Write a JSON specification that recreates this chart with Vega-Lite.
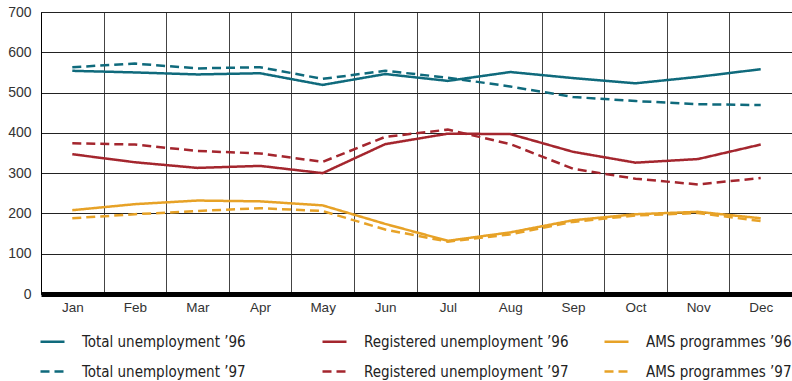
{
  "$schema": "https://vega.github.io/schema/vega-lite/v6.json",
  "autosize": {"type": "none"},
  "width": 751,
  "height": 282,
  "padding": {"left": 41, "top": 12, "right": 0, "bottom": 87},
  "background": "white",
  "config": {
    "view": {"stroke": "#222", "strokeWidth": 1},
    "font": "Liberation Sans"
  },
  "data": {
    "values": [
      {"month": "Jan", "series": "Total unemployment ’96", "value": 554},
      {"month": "Feb", "series": "Total unemployment ’96", "value": 550},
      {"month": "Mar", "series": "Total unemployment ’96", "value": 545},
      {"month": "Apr", "series": "Total unemployment ’96", "value": 548},
      {"month": "May", "series": "Total unemployment ’96", "value": 519},
      {"month": "Jun", "series": "Total unemployment ’96", "value": 546},
      {"month": "Jul", "series": "Total unemployment ’96", "value": 529},
      {"month": "Aug", "series": "Total unemployment ’96", "value": 551},
      {"month": "Sep", "series": "Total unemployment ’96", "value": 536},
      {"month": "Oct", "series": "Total unemployment ’96", "value": 523},
      {"month": "Nov", "series": "Total unemployment ’96", "value": 539},
      {"month": "Dec", "series": "Total unemployment ’96", "value": 558},
      {"month": "Jan", "series": "Registered unemployment ’96", "value": 347},
      {"month": "Feb", "series": "Registered unemployment ’96", "value": 327},
      {"month": "Mar", "series": "Registered unemployment ’96", "value": 313},
      {"month": "Apr", "series": "Registered unemployment ’96", "value": 318},
      {"month": "May", "series": "Registered unemployment ’96", "value": 300},
      {"month": "Jun", "series": "Registered unemployment ’96", "value": 372},
      {"month": "Jul", "series": "Registered unemployment ’96", "value": 398},
      {"month": "Aug", "series": "Registered unemployment ’96", "value": 397},
      {"month": "Sep", "series": "Registered unemployment ’96", "value": 353},
      {"month": "Oct", "series": "Registered unemployment ’96", "value": 326},
      {"month": "Nov", "series": "Registered unemployment ’96", "value": 335},
      {"month": "Dec", "series": "Registered unemployment ’96", "value": 371},
      {"month": "Jan", "series": "AMS programmes ’96", "value": 208},
      {"month": "Feb", "series": "AMS programmes ’96", "value": 223},
      {"month": "Mar", "series": "AMS programmes ’96", "value": 232},
      {"month": "Apr", "series": "AMS programmes ’96", "value": 230},
      {"month": "May", "series": "AMS programmes ’96", "value": 220},
      {"month": "Jun", "series": "AMS programmes ’96", "value": 174},
      {"month": "Jul", "series": "AMS programmes ’96", "value": 132},
      {"month": "Aug", "series": "AMS programmes ’96", "value": 153},
      {"month": "Sep", "series": "AMS programmes ’96", "value": 183},
      {"month": "Oct", "series": "AMS programmes ’96", "value": 198},
      {"month": "Nov", "series": "AMS programmes ’96", "value": 204},
      {"month": "Dec", "series": "AMS programmes ’96", "value": 188},
      {"month": "Jan", "series": "Total unemployment ’97", "value": 563},
      {"month": "Feb", "series": "Total unemployment ’97", "value": 572},
      {"month": "Mar", "series": "Total unemployment ’97", "value": 560},
      {"month": "Apr", "series": "Total unemployment ’97", "value": 563},
      {"month": "May", "series": "Total unemployment ’97", "value": 534},
      {"month": "Jun", "series": "Total unemployment ’97", "value": 554},
      {"month": "Jul", "series": "Total unemployment ’97", "value": 537},
      {"month": "Aug", "series": "Total unemployment ’97", "value": 515},
      {"month": "Sep", "series": "Total unemployment ’97", "value": 489},
      {"month": "Oct", "series": "Total unemployment ’97", "value": 479},
      {"month": "Nov", "series": "Total unemployment ’97", "value": 471},
      {"month": "Dec", "series": "Total unemployment ’97", "value": 469},
      {"month": "Jan", "series": "Registered unemployment ’97", "value": 374},
      {"month": "Feb", "series": "Registered unemployment ’97", "value": 371},
      {"month": "Mar", "series": "Registered unemployment ’97", "value": 355},
      {"month": "Apr", "series": "Registered unemployment ’97", "value": 349},
      {"month": "May", "series": "Registered unemployment ’97", "value": 328},
      {"month": "Jun", "series": "Registered unemployment ’97", "value": 390},
      {"month": "Jul", "series": "Registered unemployment ’97", "value": 408},
      {"month": "Aug", "series": "Registered unemployment ’97", "value": 372},
      {"month": "Sep", "series": "Registered unemployment ’97", "value": 311},
      {"month": "Oct", "series": "Registered unemployment ’97", "value": 286},
      {"month": "Nov", "series": "Registered unemployment ’97", "value": 272},
      {"month": "Dec", "series": "Registered unemployment ’97", "value": 288},
      {"month": "Jan", "series": "AMS programmes ’97", "value": 188},
      {"month": "Feb", "series": "AMS programmes ’97", "value": 198},
      {"month": "Mar", "series": "AMS programmes ’97", "value": 206},
      {"month": "Apr", "series": "AMS programmes ’97", "value": 213},
      {"month": "May", "series": "AMS programmes ’97", "value": 206},
      {"month": "Jun", "series": "AMS programmes ’97", "value": 160},
      {"month": "Jul", "series": "AMS programmes ’97", "value": 130},
      {"month": "Aug", "series": "AMS programmes ’97", "value": 148},
      {"month": "Sep", "series": "AMS programmes ’97", "value": 179},
      {"month": "Oct", "series": "AMS programmes ’97", "value": 195},
      {"month": "Nov", "series": "AMS programmes ’97", "value": 201},
      {"month": "Dec", "series": "AMS programmes ’97", "value": 181}
    ]
  },
  "mark": {"type": "line", "strokeWidth": 2.5},
  "encoding": {
    "x": {
      "field": "month",
      "type": "nominal",
      "sort": ["Jan","Feb","Mar","Apr","May","Jun","Jul","Aug","Sep","Oct","Nov","Dec"],
      "scale": {"paddingInner": 0, "paddingOuter": 0},
      "axis": {
        "title": null,
        "labelAngle": 0,
        "tickBand": "extent",
        "ticks": false,
        "grid": true,
        "gridColor": "#444",
        "gridWidth": 1,
        "gridOpacity": 1,
        "domainColor": "#000",
        "domainWidth": 5,
        "labelFont": "Liberation Sans",
        "labelFontSize": 13.5,
        "labelColor": "#333",
        "labelPadding": 6
      }
    },
    "y": {
      "field": "value",
      "type": "quantitative",
      "scale": {"domain": [0, 700], "nice": false},
      "axis": {
        "title": null,
        "values": [0,100,200,300,400,500,600,700],
        "ticks": false,
        "grid": true,
        "gridColor": "#222",
        "gridWidth": 1,
        "gridOpacity": 1,
        "domainColor": "#000",
        "domainWidth": 1,
        "labelFont": "Liberation Sans",
        "labelFontSize": 14,
        "labelColor": "#333",
        "labelPadding": 10
      }
    },
    "color": {
      "field": "series",
      "type": "nominal",
      "scale": {
        "domain": ["Total unemployment ’96", "Registered unemployment ’96", "AMS programmes ’96", "Total unemployment ’97", "Registered unemployment ’97", "AMS programmes ’97"],
        "range": ["#0f6a7c", "#a4262e", "#e7a227", "#0f6a7c", "#a4262e", "#e7a227"]
      },
      "legend": {
        "title": null,
        "orient": "none",
        "legendX": -2,
        "legendY": 316,
        "direction": "horizontal",
        "columns": 3,
        "gridAlign": "all",
        "columnPadding": 30,
        "rowPadding": 8,
        "symbolType": "stroke",
        "symbolSize": 576,
        "symbolStrokeWidth": 2.5,
        "labelFont": "DejaVu Sans Condensed",
        "labelFontSize": 15,
        "labelColor": "#222",
        "labelOffset": 16,
        "labelLimit": 300
      }
    },
    "strokeDash": {
      "field": "series",
      "type": "nominal",
      "scale": {
        "domain": ["Total unemployment ’96", "Registered unemployment ’96", "AMS programmes ’96", "Total unemployment ’97", "Registered unemployment ’97", "AMS programmes ’97"],
        "range": [[1,0],[1,0],[1,0],[9,5],[9,5],[9,5]]
      }
    }
  }
}
